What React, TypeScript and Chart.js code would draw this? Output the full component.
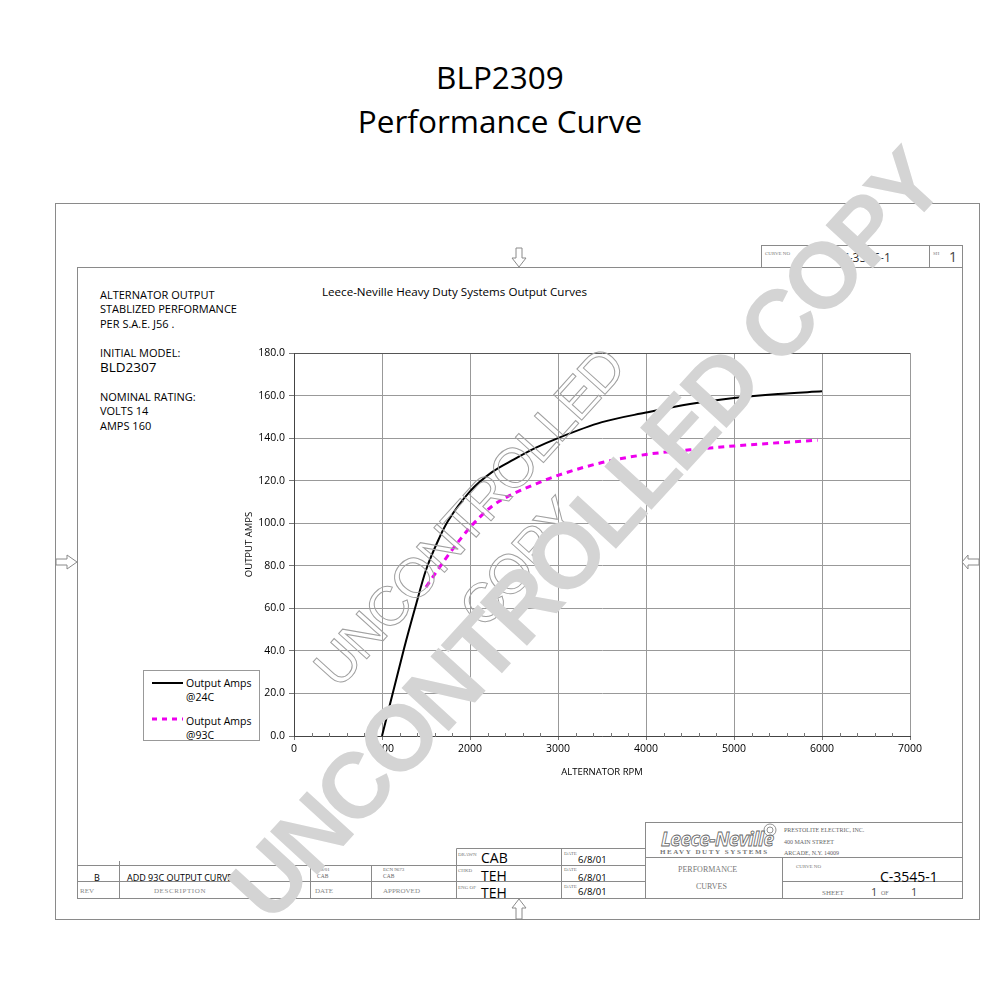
import React, { useEffect, useRef } from 'react';
import { Chart, registerables } from 'chart.js';

Chart.register(...registerables);

// ---- data ----
const rpm24 = [1000, 1250, 1375, 1500, 1650, 1750, 2000, 2250, 2500, 2750, 3000, 3500, 4000, 4500, 5000, 5500, 6000];
const amps24 = [0, 41, 60, 78, 93, 101, 115, 124, 130, 135.5, 140, 147.5, 152, 156, 158.8, 160.7, 162];
const rpm93 = [1500, 1700, 1900, 2000, 2250, 2500, 2750, 3000, 3500, 4000, 4500, 5000, 5500, 5950];
const amps93 = [70, 82, 93, 98, 108, 114, 118.5, 122.5, 128.5, 132.3, 134.5, 136.3, 137.8, 139];
const seriesNames = ['Output Amps @24C', 'Output Amps @93C'];
const xRange = [0, 7000];
const yRange = [0, 180];
const xStep = 1000;
const yStep = 20;
const xMinorStep = 200;

const SANS = "'Open Sans', 'Noto Sans', sans-serif";
const CAD = "'Liberation Serif', 'DejaVu Serif', serif";

const minorTicks = {
  id: 'minorTicks',
  afterDatasetsDraw(chart: any) {
    const xs = chart.scales.x;
    const ys = chart.scales.y;
    const ctx = chart.ctx;
    const y0 = ys.getPixelForValue(yRange[0]);
    ctx.save();
    ctx.strokeStyle = '#777';
    ctx.lineWidth = 1;
    for (let v = xRange[0] + xMinorStep; v < xRange[1]; v += xMinorStep) {
      if (v % xStep === 0) continue;
      const px = Math.round(xs.getPixelForValue(v)) + 0.5;
      ctx.beginPath();
      ctx.moveTo(px, y0 - 3);
      ctx.lineTo(px, y0 + 1);
      ctx.stroke();
    }
    ctx.restore();
  },
};

function PerfChart() {
  const ref = useRef<HTMLCanvasElement | null>(null);
  useEffect(() => {
    if (!ref.current) return;
    const chart = new Chart(ref.current, {
      type: 'line',
      data: {
        datasets: [
          {
            label: seriesNames[0],
            data: rpm24.map((x, i) => ({ x, y: amps24[i] })),
            borderColor: '#000',
            borderWidth: 2,
            pointRadius: 0,
            fill: false,
            cubicInterpolationMode: 'monotone',
          },
          {
            label: seriesNames[1],
            data: rpm93.map((x, i) => ({ x, y: amps93[i] })),
            borderColor: '#ee00ee',
            borderWidth: 3,
            borderDash: [6, 5],
            pointRadius: 0,
            fill: false,
            cubicInterpolationMode: 'monotone',
          },
        ],
      },
      options: {
        animation: false,
        responsive: true,
        maintainAspectRatio: false,
        layout: { padding: { top: 23, right: 30, bottom: 0, left: 0 } },
        plugins: { legend: { display: false }, tooltip: { enabled: false }, title: { display: false } },
        scales: {
          x: {
            type: 'linear',
            min: xRange[0],
            max: xRange[1],
            ticks: {
              stepSize: xStep,
              color: '#000',
              font: { family: SANS, size: 10.5 },
              padding: 3,
              maxRotation: 0,
              autoSkip: false,
              callback: (v: any) => String(v),
            },
            grid: { color: '#999', lineWidth: 1, tickLength: 4, tickColor: '#777' },
            border: { color: '#444', width: 1 },
            title: {
              display: true,
              text: 'ALTERNATOR RPM',
              color: '#000',
              font: { family: SANS, size: 9.5 },
              padding: { top: 0, bottom: 12 },
            },
            afterFit: (s: any) => { s.height = 54; },
          },
          y: {
            type: 'linear',
            min: yRange[0],
            max: yRange[1],
            ticks: {
              stepSize: yStep,
              color: '#000',
              font: { family: SANS, size: 10.5 },
              padding: 4,
              callback: (v: any) => Number(v).toFixed(1),
            },
            grid: {
              color: (c: any) => (c.tick && c.tick.value === yRange[1] ? '#555' : '#999'),
              lineWidth: 1,
              tickLength: 5,
              tickColor: '#777',
            },
            border: { color: '#444', width: 1 },
            title: {
              display: true,
              text: 'OUTPUT AMPS',
              color: '#000',
              font: { family: SANS, size: 9.5 },
              padding: { top: 14, bottom: 0 },
            },
            afterFit: (s: any) => { s.width = 64; },
          },
        },
      },
      plugins: [minorTicks],
    } as any);
    return () => chart.destroy();
  }, []);
  return (
    <div style={{ position: 'absolute', left: 230, top: 330, width: 710, height: 460 }}>
      <canvas ref={ref} />
    </div>
  );
}

function T(props: any) {
  const { x, y, s = 10, f = SANS, c = '#000', a = 'start', w = 'normal', children, ...rest } = props;
  return (
    <text x={x} y={y} fontSize={s} fontFamily={f} fill={c} textAnchor={a} fontWeight={w} dominantBaseline="central" {...rest}>
      {children}
    </text>
  );
}

const LINE = '#8a8a8a';

function Frame() {
  return (
    <svg width={1000} height={1000} style={{ position: 'absolute', left: 0, top: 0 }}>
      {/* titles */}
      <T x={500} y={76} s={31.5} a="middle">BLP2309</T>
      <T x={500} y={120} s={31.5} a="middle">Performance Curve</T>

      {/* frames */}
      <rect x={55.5} y={203.5} width={924} height={716} fill="none" stroke={LINE} strokeWidth={1} />
      <rect x={77.5} y={267.5} width={885} height={631} fill="none" stroke={LINE} strokeWidth={1} />

      {/* arrows */}
      <polygon points="516,248 522,248 522,258 526,258 519,267 512,258 516,258" fill="#fff" stroke={LINE} />
      <polygon points="516,919 522,919 522,908 526,908 519,899 512,908 516,908" fill="#fff" stroke={LINE} />
      <polygon points="56,559 67,559 67,555 77,562 67,569 67,565 56,565" fill="#fff" stroke={LINE} />
      <polygon points="979,559 968,559 968,555 962,562 968,569 968,565 979,565" fill="#fff" stroke={LINE} />

      {/* top right box */}
      <rect x={761.5} y={245.5} width={201} height={22} fill="none" stroke={LINE} />
      <line x1={929.5} y1={245.5} x2={929.5} y2={267.5} stroke={LINE} />
      <T x={765} y={253} s={5} f={CAD} c="#777">CURVE NO</T>
      <T x={866} y={257} s={12} a="middle" c="#333">C-3545-1</T>
      <T x={933} y={253} s={5} f={CAD} c="#777">SH</T>
      <T x={953} y={256.5} s={14} a="middle" c="#444">1</T>

      {/* left text block */}
      <T x={100} y={294} s={11}>ALTERNATOR OUTPUT</T>
      <T x={100} y={308.5} s={11}>STABLIZED PERFORMANCE</T>
      <T x={100} y={323} s={11}>PER S.A.E. J56 .</T>
      <T x={100} y={352} s={11}>INITIAL MODEL:</T>
      <T x={100} y={367} s={13.5}>BLD2307</T>
      <T x={100} y={396} s={11}>NOMINAL RATING:</T>
      <T x={100} y={410.5} s={11}>VOLTS 14</T>
      <T x={100} y={425} s={11}>AMPS 160</T>

      {/* chart heading */}
      <T x={322} y={291} s={11.6}>Leece-Neville Heavy Duty Systems Output Curves</T>

      {/* legend */}
      <rect x={143.5} y={670.5} width={116} height={70} fill="#fff" stroke="#999" />
      <line x1={152} y1={683} x2={183} y2={683} stroke="#000" strokeWidth={2} />
      <T x={186} y={683} s={10.5}>Output Amps</T>
      <T x={186} y={697} s={10.5}>@24C</T>
      <line x1={152} y1={719} x2={183} y2={719} stroke="#ee00ee" strokeWidth={3} strokeDasharray="5 5" />
      <T x={186} y={721} s={10.5}>Output Amps</T>
      <T x={186} y={735} s={10.5}>@93C</T>

      {/* bottom revision block */}
      <line x1={77.5} y1={865.5} x2={645.5} y2={865.5} stroke={LINE} />
      <line x1={77.5} y1={881.5} x2={645.5} y2={881.5} stroke={LINE} />
      <line x1={456.5} y1={848.5} x2={645.5} y2={848.5} stroke={LINE} />
      <line x1={119.5} y1={861} x2={119.5} y2={898} stroke={LINE} />
      <line x1={310.5} y1={865.5} x2={310.5} y2={898} stroke={LINE} />
      <line x1={371.5} y1={865.5} x2={371.5} y2={898} stroke={LINE} />
      <line x1={456.5} y1={848.5} x2={456.5} y2={898} stroke={LINE} />
      <line x1={561.5} y1={848.5} x2={561.5} y2={898} stroke={LINE} />

      <T x={97} y={877} s={9} a="middle">B</T>
      <T x={127} y={877} s={9}>ADD 93C OUTPUT CURVE</T>
      <T x={317} y={869.5} s={5} f={CAD} c="#666">6/8/01</T>
      <T x={317} y={876} s={5.5} f={CAD} c="#666">CAB</T>
      <T x={383} y={869.5} s={5} f={CAD} c="#666">ECN 9673</T>
      <T x={383} y={876} s={5.5} f={CAD} c="#666">CAB</T>
      <T x={80} y={890.5} s={7} f={CAD} c="#888">REV</T>
      <T x={180} y={890.5} s={7} f={CAD} c="#888" a="middle" letterSpacing={0.6}>DESCRIPTION</T>
      <T x={324} y={890.5} s={7} f={CAD} c="#888" a="middle">DATE</T>
      <T x={383} y={890.5} s={7} f={CAD} c="#888">APPROVED</T>

      <T x={458} y={854} s={5} f={CAD} c="#777">DRAWN</T>
      <T x={458} y={870} s={5} f={CAD} c="#777">CHKD</T>
      <T x={458} y={887} s={5} f={CAD} c="#777">ENG OF</T>
      <T x={481} y={857.5} s={14}>CAB</T>
      <T x={481} y={875} s={14}>TEH</T>
      <T x={481} y={892.5} s={14}>TEH</T>
      <T x={564} y={853} s={5} f={CAD} c="#777">DATE</T>
      <T x={564} y={869.5} s={5} f={CAD} c="#777">DATE</T>
      <T x={564} y={886} s={5} f={CAD} c="#777">DATE</T>
      <T x={578} y={859.5} s={9.5}>6/8/01</T>
      <T x={578} y={877} s={9.5}>6/8/01</T>
      <T x={578} y={891} s={9.5}>6/8/01</T>

      {/* right title block */}
      <rect x={645.5} y={822.5} width={317} height={76} fill="none" stroke={LINE} />
      <line x1={645.5} y1={857.5} x2={962.5} y2={857.5} stroke={LINE} />
      <line x1={782.5} y1={857.5} x2={782.5} y2={898} stroke={LINE} />
      <line x1={782.5} y1={881.5} x2={962.5} y2={881.5} stroke={LINE} />

      <T x={661} y={839} s={19} w="bold" fontStyle="italic" fill="#fff" stroke="#666" strokeWidth={0.8} letterSpacing={-0.5}>Leece-Neville</T>
      <circle cx={770} cy={830} r={6} fill="none" stroke="#777" strokeWidth={0.8} />
      <circle cx={770} cy={830} r={3} fill="none" stroke="#777" strokeWidth={0.8} />
      <T x={660} y={852} s={7} w="bold" f={CAD} c="#777" letterSpacing={1.6}>HEAVY DUTY SYSTEMS</T>
      <T x={784} y={830} s={6} f={CAD} c="#666">PRESTOLITE ELECTRIC, INC.</T>
      <T x={784} y={842} s={6} f={CAD} c="#666">400 MAIN STREET</T>
      <T x={784} y={853} s={6} f={CAD} c="#666">ARCADE, N.Y. 14009</T>
      <T x={678} y={869} s={8} f={CAD} c="#777">PERFORMANCE</T>
      <T x={696} y={886} s={8} f={CAD} c="#777">CURVES</T>
      <T x={796} y={866} s={5} f={CAD} c="#777">CURVE NO</T>
      <T x={880} y={876} s={14}>C-3545-1</T>
      <T x={822} y={893} s={7} f={CAD} c="#777">SHEET</T>
      <T x={871} y={891.5} s={11} c="#444">1</T>
      <T x={881} y={893} s={6} f={CAD} c="#777">OF</T>
      <T x={911} y={891.5} s={11} c="#444">1</T>
    </svg>
  );
}

function Watermarks() {
  const wmFont = "'Liberation Sans', Arial, sans-serif";
  return (
    <svg width={1000} height={1000} style={{ position: 'absolute', left: 0, top: 0, pointerEvents: 'none' }}>
      <g transform="translate(494,540) rotate(-48)">
        <text x={0} y={-34} textAnchor="middle" dominantBaseline="central" fontSize={55} fontFamily={wmFont} fill="none" stroke="#a0a0a0" strokeWidth={1} letterSpacing={-2}>UNCONTROLLED</text>
        <text x={0} y={34} textAnchor="middle" dominantBaseline="central" fontSize={55} fontFamily={wmFont} fill="none" stroke="#a0a0a0" strokeWidth={1} letterSpacing={-2}>COPY</text>
      </g>
      <g transform="translate(585,535) rotate(-47.5)">
        <text x={0} y={0} textAnchor="middle" dominantBaseline="central" fontSize={93} fontWeight="bold" fontFamily={wmFont} fill="#d4d4d4" letterSpacing={-4}>UNCONTROLLED COPY</text>
      </g>
    </svg>
  );
}

export default function App() {
  return (
    <div style={{ position: 'fixed', left: 0, top: 0, width: 1000, height: 1000, background: '#fff', overflow: 'hidden' }}>
      <Frame />
      <PerfChart />
      <Watermarks />
    </div>
  );
}
